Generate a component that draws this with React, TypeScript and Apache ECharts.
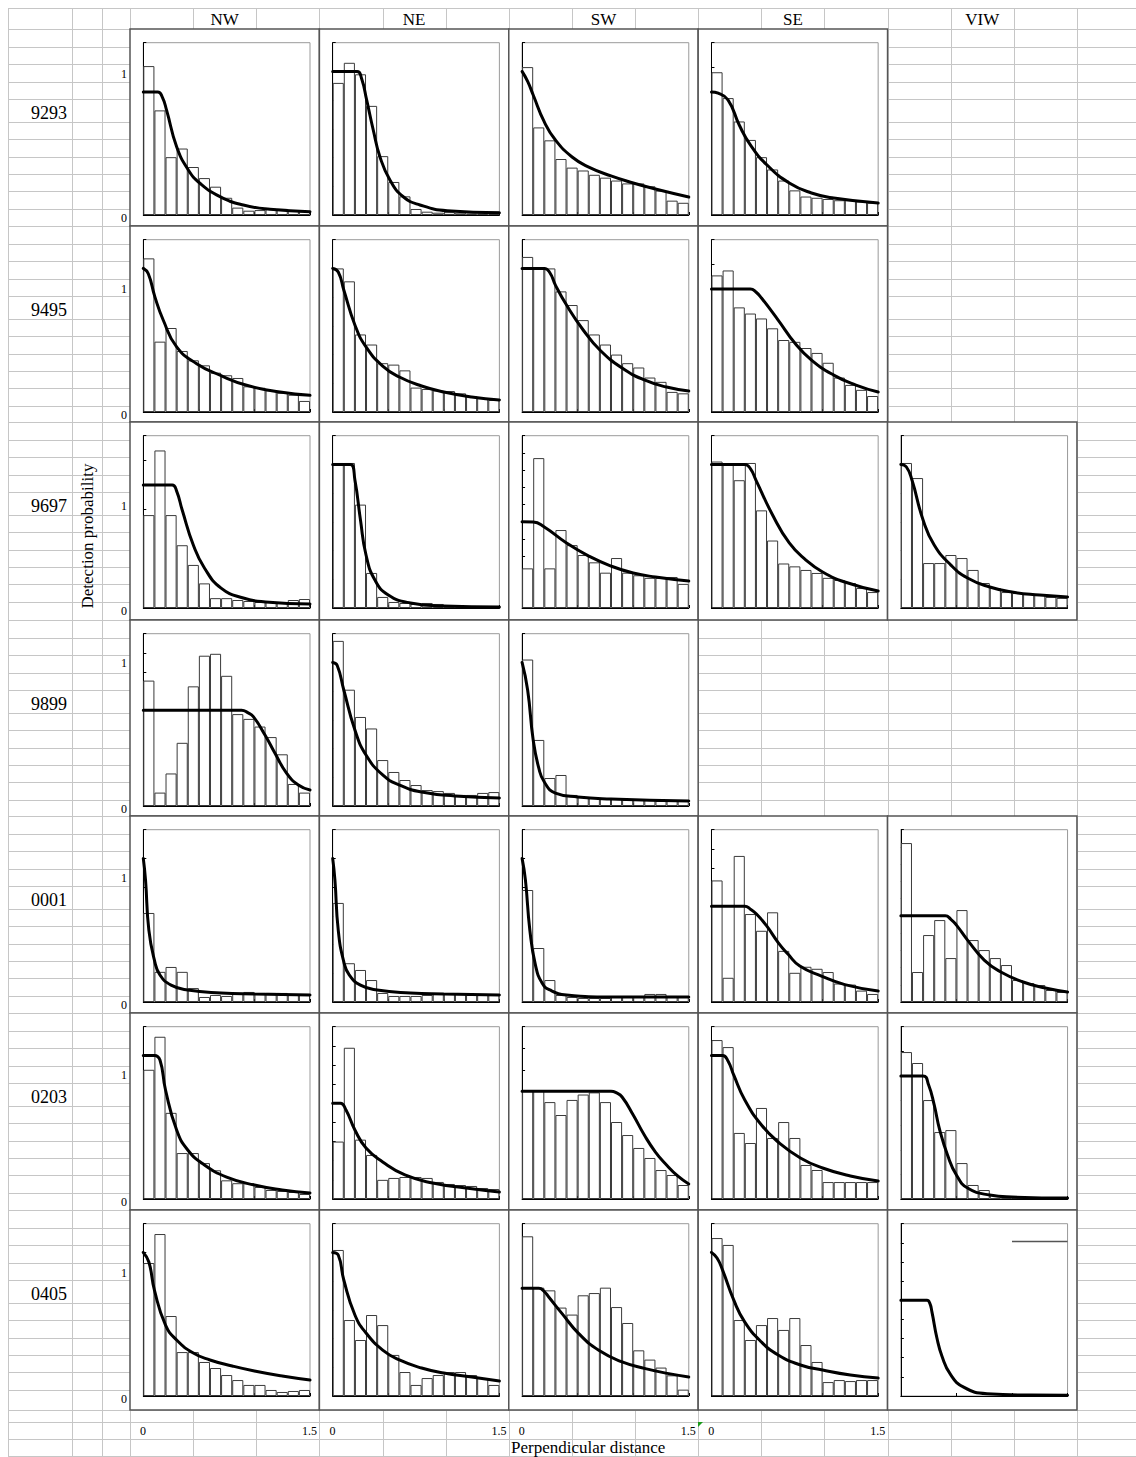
import React, { useEffect, useRef } from "react";
import * as echarts from "echarts";

// ---------- categories / labels ----------
const ROW_NAMES = ["9293", "9495", "9697", "9899", "0001", "0203", "0405"];
const COL_NAMES = ["NW", "NE", "SW", "SE", "VIW"];
const BIN_LABELS = ["0.05", "0.15", "0.25", "0.35", "0.45", "0.55", "0.65", "0.75", "0.85", "0.95", "1.05", "1.15", "1.25", "1.35", "1.45"];
const Y_CELL_LABELS = ["1", "0"];
const X_CELL_LABELS = ["0", "1.5"];
const Y_TITLE = "Detection probability";
const X_TITLE = "Perpendicular distance";

// ---------- data: histogram bars (15 bins of 0.1) and fitted detection curves ----------
// 9293
const nw9293Bars = [1.21, 0.85, 0.47, 0.54, 0.39, 0.3, 0.23, 0.14, 0.06, 0.035, 0.04, 0.05, 0.05, 0.04, 0.03];
const nw9293Curve = [[0, 1], [0.13, 1], [0.17, 0.96], [0.21, 0.85], [0.3, 0.555], [0.405, 0.366], [0.51, 0.258], [0.69, 0.149], [0.9, 0.081], [1.14, 0.046], [1.5, 0.027]];
const ne9293Bars = [0.92, 1.06, 0.98, 0.76, 0.41, 0.23, 0.13, 0.042, 0.023, 0.016, 0.02, 0.016, 0.01, 0.01, 0.023];
const ne9293Curve = [[0, 1], [0.22, 1], [0.26, 0.95], [0.306, 0.8], [0.365, 0.592], [0.425, 0.406], [0.515, 0.244], [0.635, 0.127], [0.785, 0.07], [1.03, 0.03], [1.5, 0.016]];
const sw9293Bars = [1.03, 0.61, 0.52, 0.39, 0.33, 0.31, 0.28, 0.26, 0.24, 0.22, 0.22, 0.2, 0.17, 0.1, 0.085];
const sw9293Curve = [[0, 1], [0.05, 0.93], [0.1, 0.836], [0.2, 0.648], [0.3, 0.522], [0.45, 0.404], [0.6, 0.334], [0.8, 0.272], [1.0, 0.223], [1.2, 0.181], [1.5, 0.125]];
const se9293Bars = [1.16, 0.95, 0.76, 0.61, 0.47, 0.37, 0.28, 0.2, 0.15, 0.14, 0.13, 0.12, 0.12, 0.11, 0.1];
const se9293Curve = [[0, 1], [0.06, 0.99], [0.15, 0.934], [0.25, 0.731], [0.35, 0.569], [0.5, 0.406], [0.7, 0.26], [0.9, 0.179], [1.1, 0.138], [1.5, 0.097]];
// 9495
const nw9495Bars = [1.07, 0.49, 0.585, 0.425, 0.36, 0.325, 0.274, 0.256, 0.237, 0.179, 0.169, 0.151, 0.134, 0.12, 0.077];
const nw9495Curve = [[0, 1], [0.045, 0.963], [0.105, 0.8], [0.18, 0.639], [0.3, 0.453], [0.48, 0.336], [0.69, 0.256], [0.93, 0.186], [1.23, 0.139], [1.5, 0.116]];
const ne9495Bars = [1.0, 0.91, 0.54, 0.47, 0.34, 0.33, 0.29, 0.17, 0.16, 0.15, 0.146, 0.13, 0.11, 0.097, 0.084];
const ne9495Curve = [[0, 1], [0.05, 0.975], [0.1, 0.85], [0.2, 0.606], [0.3, 0.453], [0.45, 0.32], [0.6, 0.244], [0.8, 0.181], [1.0, 0.139], [1.25, 0.104], [1.5, 0.084]];
const sw9495Bars = [1.08, 1.0, 1.0, 0.84, 0.745, 0.64, 0.54, 0.47, 0.4, 0.34, 0.31, 0.24, 0.21, 0.14, 0.13];
const sw9495Curve = [[0, 1], [0.2, 1], [0.25, 0.97], [0.3, 0.884], [0.4, 0.745], [0.55, 0.571], [0.7, 0.432], [0.9, 0.306], [1.1, 0.223], [1.3, 0.174], [1.5, 0.146]];
const se9495Bars = [1.11, 1.15, 0.85, 0.8, 0.76, 0.68, 0.585, 0.57, 0.52, 0.48, 0.4, 0.28, 0.22, 0.18, 0.13];
const se9495Curve = [[0, 1], [0.35, 1], [0.4, 0.975], [0.45, 0.926], [0.6, 0.747], [0.75, 0.56], [0.9, 0.422], [1.1, 0.3], [1.3, 0.219], [1.5, 0.162]];
// 9697
const nw9697Bars = [0.755, 1.28, 0.755, 0.51, 0.35, 0.2, 0.08, 0.08, 0.065, 0.057, 0.049, 0.049, 0.041, 0.065, 0.073];
const nw9697Curve = [[0, 1], [0.26, 1], [0.3, 0.95], [0.35, 0.796], [0.45, 0.512], [0.55, 0.325], [0.7, 0.162], [0.9, 0.081], [1.1, 0.049], [1.5, 0.032]];
const ne9697Bars = [1.01, 1.01, 0.72, 0.244, 0.077, 0.042, 0.035, 0.028, 0.035, 0.028, 0.014, 0.014, 0.014, 0.014, 0.014];
const ne9697Curve = [[0, 1], [0.16, 1], [0.2, 0.891], [0.25, 0.613], [0.3, 0.369], [0.38, 0.195], [0.5, 0.091], [0.7, 0.035], [1.0, 0.014], [1.5, 0.007]];
const sw9697Bars = [0.46, 1.74, 0.46, 0.905, 0.73, 0.615, 0.53, 0.41, 0.58, 0.41, 0.38, 0.35, 0.35, 0.36, 0.28];
const sw9697Curve = [[0, 1], [0.1, 0.998], [0.2, 0.94], [0.4, 0.754], [0.6, 0.603], [0.8, 0.487], [1.0, 0.406], [1.2, 0.36], [1.5, 0.313]];
const se9697Bars = [1.02, 1.0, 0.89, 1.01, 0.68, 0.47, 0.31, 0.29, 0.265, 0.244, 0.21, 0.195, 0.174, 0.139, 0.111];
const se9697Curve = [[0, 1], [0.3, 1], [0.35, 0.97], [0.4, 0.891], [0.55, 0.648], [0.7, 0.453], [0.85, 0.334], [1.0, 0.251], [1.2, 0.181], [1.5, 0.118]];
const viw9697Bars = [1.01, 0.905, 0.313, 0.313, 0.369, 0.348, 0.265, 0.174, 0.139, 0.111, 0.104, 0.097, 0.091, 0.077, 0.07];
const viw9697Curve = [[0, 1], [0.05, 0.982], [0.1, 0.891], [0.2, 0.613], [0.3, 0.439], [0.45, 0.299], [0.6, 0.209], [0.8, 0.146], [1.0, 0.111], [1.25, 0.091], [1.5, 0.077]];
// 9899
const nw9899Bars = [1.31, 0.14, 0.34, 0.66, 1.25, 1.57, 1.59, 1.36, 0.96, 0.91, 0.83, 0.72, 0.54, 0.23, 0.14];
const nw9899Curve = [[0, 1], [0.885, 1], [0.94, 0.975], [0.99, 0.933], [1.095, 0.742], [1.185, 0.551], [1.29, 0.342], [1.395, 0.219], [1.5, 0.167]];
const ne9899Bars = [1.15, 0.81, 0.62, 0.54, 0.32, 0.237, 0.181, 0.146, 0.111, 0.104, 0.091, 0.077, 0.077, 0.091, 0.097];
const ne9899Curve = [[0, 1], [0.04, 0.98], [0.1, 0.808], [0.2, 0.529], [0.3, 0.355], [0.45, 0.216], [0.6, 0.146], [0.8, 0.097], [1.1, 0.07], [1.5, 0.056]];
const sw9899Bars = [1.02, 0.46, 0.195, 0.216, 0.077, 0.063, 0.056, 0.049, 0.049, 0.042, 0.042, 0.042, 0.035, 0.042, 0.042];
const sw9899Curve = [[0, 1], [0.05, 0.808], [0.1, 0.46], [0.15, 0.265], [0.2, 0.167], [0.3, 0.09], [0.5, 0.063], [0.8, 0.049], [1.5, 0.035]];
// 0001
const nw0001Bars = [0.62, 0.21, 0.244, 0.21, 0.097, 0.035, 0.049, 0.042, 0.063, 0.07, 0.063, 0.063, 0.063, 0.056, 0.056];
const nw0001Curve = [[0, 1], [0.02, 0.85], [0.05, 0.5], [0.1, 0.292], [0.15, 0.188], [0.25, 0.118], [0.4, 0.084], [0.7, 0.063], [1.0, 0.056], [1.5, 0.049]];
const ne0001Bars = [0.69, 0.27, 0.223, 0.153, 0.063, 0.042, 0.042, 0.042, 0.049, 0.056, 0.063, 0.056, 0.049, 0.056, 0.049];
const ne0001Curve = [[0, 1], [0.02, 0.85], [0.05, 0.5], [0.1, 0.279], [0.15, 0.188], [0.25, 0.118], [0.4, 0.084], [0.7, 0.063], [1.0, 0.056], [1.5, 0.049]];
const sw0001Bars = [0.78, 0.376, 0.153, 0.049, 0.035, 0.028, 0.028, 0.028, 0.035, 0.042, 0.042, 0.056, 0.056, 0.042, 0.035];
const sw0001Curve = [[0, 1], [0.03, 0.85], [0.07, 0.5], [0.12, 0.258], [0.18, 0.132], [0.25, 0.084], [0.4, 0.049], [0.8, 0.035], [1.5, 0.035]];
const se0001Bars = [1.27, 0.253, 1.526, 0.919, 0.744, 0.937, 0.534, 0.305, 0.368, 0.347, 0.313, 0.193, 0.182, 0.119, 0.084];
const se0001Curve = [[0, 1], [0.3, 1], [0.35, 0.97], [0.405, 0.919], [0.495, 0.797], [0.6, 0.621], [0.69, 0.498], [0.795, 0.376], [0.99, 0.271], [1.2, 0.182], [1.5, 0.115]];
const viw0001Bars = [1.845, 0.348, 0.777, 0.951, 0.51, 1.067, 0.719, 0.603, 0.51, 0.429, 0.255, 0.22, 0.197, 0.139, 0.116];
const viw0001Curve = [[0, 1], [0.4, 1], [0.45, 0.96], [0.5, 0.893], [0.6, 0.719], [0.75, 0.487], [0.9, 0.348], [1.1, 0.232], [1.3, 0.162], [1.5, 0.116]];
// 0203
const nw0203Bars = [0.9, 1.13, 0.6, 0.32, 0.32, 0.25, 0.2, 0.13, 0.11, 0.11, 0.084, 0.063, 0.056, 0.049, 0.035];
const nw0203Curve = [[0, 1], [0.1, 1], [0.15, 0.968], [0.2, 0.759], [0.3, 0.48], [0.4, 0.341], [0.55, 0.237], [0.75, 0.153], [1.0, 0.097], [1.25, 0.063], [1.5, 0.042]];
const ne0203Bars = [0.6, 1.58, 0.62, 0.46, 0.2, 0.22, 0.23, 0.23, 0.22, 0.178, 0.157, 0.146, 0.136, 0.115, 0.104];
const ne0203Curve = [[0, 1], [0.07, 1], [0.12, 0.93], [0.2, 0.721], [0.3, 0.533], [0.45, 0.387], [0.65, 0.251], [0.9, 0.167], [1.2, 0.115], [1.5, 0.073]];
const sw0203Bars = [1.01, 1.01, 0.9, 0.78, 0.92, 0.97, 0.99, 0.9, 0.715, 0.594, 0.474, 0.381, 0.269, 0.223, 0.13];
const sw0203Curve = [[0, 1], [0.8, 1], [0.85, 0.985], [0.9, 0.947], [1.0, 0.78], [1.1, 0.594], [1.2, 0.436], [1.3, 0.316], [1.4, 0.214], [1.5, 0.139]];
const se0203Bars = [1.107, 1.058, 0.46, 0.39, 0.634, 0.425, 0.536, 0.425, 0.237, 0.202, 0.118, 0.118, 0.118, 0.118, 0.118];
const se0203Curve = [[0, 1], [0.1, 1], [0.15, 0.96], [0.2, 0.864], [0.3, 0.689], [0.45, 0.515], [0.6, 0.397], [0.8, 0.286], [1.0, 0.216], [1.25, 0.16], [1.5, 0.125]];
const viw0203Bars = [1.194, 1.105, 0.804, 0.544, 0.56, 0.292, 0.114, 0.073, 0.032, 0.016, 0.008, 0.008, 0.008, 0.008, 0.008];
const viw0203Curve = [[0, 1], [0.2, 1], [0.25, 0.926], [0.3, 0.764], [0.35, 0.56], [0.42, 0.357], [0.5, 0.195], [0.6, 0.089], [0.8, 0.032], [1.0, 0.016], [1.5, 0.008]];
// 0405
const nw0405Bars = [0.926, 1.128, 0.557, 0.306, 0.306, 0.237, 0.195, 0.146, 0.111, 0.077, 0.077, 0.042, 0.028, 0.035, 0.042];
const nw0405Curve = [[0, 1], [0.05, 0.933], [0.1, 0.738], [0.2, 0.494], [0.3, 0.39], [0.45, 0.299], [0.6, 0.251], [0.8, 0.209], [1.0, 0.174], [1.25, 0.139], [1.5, 0.111]];
const ne0405Bars = [1.017, 0.529, 0.39, 0.564, 0.494, 0.286, 0.167, 0.077, 0.125, 0.146, 0.167, 0.167, 0.146, 0.125, 0.077];
const ne0405Curve = [[0, 1], [0.05, 0.982], [0.1, 0.808], [0.2, 0.564], [0.3, 0.439], [0.45, 0.32], [0.6, 0.251], [0.8, 0.195], [1.0, 0.16], [1.25, 0.132], [1.5, 0.104]];
const sw0405Bars = [1.483, 1.006, 0.981, 0.821, 0.756, 0.935, 0.956, 1.006, 0.826, 0.678, 0.424, 0.338, 0.264, 0.192, 0.059];
const sw0405Curve = [[0, 1], [0.15, 1], [0.2, 0.97], [0.24, 0.919], [0.36, 0.765], [0.51, 0.579], [0.69, 0.424], [0.9, 0.316], [1.11, 0.254], [1.32, 0.208], [1.5, 0.176]];
const se0405Bars = [1.1, 1.052, 0.529, 0.39, 0.494, 0.543, 0.46, 0.543, 0.355, 0.237, 0.097, 0.111, 0.104, 0.111, 0.111];
const se0405Curve = [[0, 1], [0.05, 0.961], [0.1, 0.877], [0.2, 0.669], [0.3, 0.515], [0.45, 0.376], [0.6, 0.286], [0.8, 0.216], [1.0, 0.181], [1.25, 0.146], [1.5, 0.125]];
const viw0405Bars: number[] = [];
const viw0405Curve = [[0, 1], [0.235, 1], [0.26, 0.97], [0.28, 0.876], [0.325, 0.603], [0.37, 0.416], [0.445, 0.228], [0.565, 0.092], [0.775, 0.024], [1.17, 0.01], [1.5, 0.008]];
const viw0405Ref = [[1.0, 1.615], [1.5, 1.615]];

// panel list: [row, col, bars, curve, axis max]
const PANELS: [number, number, number[], number[][], number][] = [
  [0, 0, nw9293Bars, nw9293Curve, 1.4],
  [0, 1, ne9293Bars, ne9293Curve, 1.2],
  [0, 2, sw9293Bars, sw9293Curve, 1.2],
  [0, 3, se9293Bars, se9293Curve, 1.4],
  [1, 0, nw9495Bars, nw9495Curve, 1.2],
  [1, 1, ne9495Bars, ne9495Curve, 1.2],
  [1, 2, sw9495Bars, sw9495Curve, 1.2],
  [1, 3, se9495Bars, se9495Curve, 1.4],
  [2, 0, nw9697Bars, nw9697Curve, 1.4],
  [2, 1, ne9697Bars, ne9697Curve, 1.2],
  [2, 2, sw9697Bars, sw9697Curve, 2.0],
  [2, 3, se9697Bars, se9697Curve, 1.2],
  [2, 4, viw9697Bars, viw9697Curve, 1.2],
  [3, 0, nw9899Bars, nw9899Curve, 1.8],
  [3, 1, ne9899Bars, ne9899Curve, 1.2],
  [3, 2, sw9899Bars, sw9899Curve, 1.2],
  [4, 0, nw0001Bars, nw0001Curve, 1.2],
  [4, 1, ne0001Bars, ne0001Curve, 1.2],
  [4, 2, sw0001Bars, sw0001Curve, 1.2],
  [4, 3, se0001Bars, se0001Curve, 1.8],
  [4, 4, viw0001Bars, viw0001Curve, 2.0],
  [5, 0, nw0203Bars, nw0203Curve, 1.2],
  [5, 1, ne0203Bars, ne0203Curve, 1.8],
  [5, 2, sw0203Bars, sw0203Curve, 1.6],
  [5, 3, se0203Bars, se0203Curve, 1.2],
  [5, 4, viw0203Bars, viw0203Curve, 1.4],
  [6, 0, nw0405Bars, nw0405Curve, 1.2],
  [6, 1, ne0405Bars, ne0405Curve, 1.2],
  [6, 2, sw0405Bars, sw0405Curve, 1.6],
  [6, 3, se0405Bars, se0405Curve, 1.2],
  [6, 4, viw0405Bars, viw0405Curve, 1.8],
];

// ---------- layout (pixels) ----------
const W = 1136;
const H = 1457;
const ROW_TOPS = [29, 226, 422, 620, 816, 1013, 1210];
const ROW_HEIGHTS = [197, 196, 198, 196, 197, 197, 200];
const COL_X0 = 130;
const SHEET_COL_W = 63.13;
const PANEL_W = SHEET_COL_W * 3;
const PLOT_L = 13.3;
const PLOT_T = 13.7;
const PLOT_W = 166.7;
const PLOT_H = 172.3;
const ROW_LINE_OFFSETS = [0, 17.7, 35.3, 52.7, 70.3, 92.7, 110, 127.7, 145, 162.3, 180];
const ONE_LABEL_Y = [74, 289, 506, 663, 878, 1075, 1273];
const SERIF = "'Liberation Serif', 'Times New Roman', serif";

function buildOption() {
  const grids: any[] = [];
  const xAxes: any[] = [];
  const yAxes: any[] = [];
  const series: any[] = [];
  const graphics: any[] = [];
  const px = (v: number) => Math.round(v) + 0.5;

  // spreadsheet grid lines
  const vx: number[] = [8, 71.5, 101.5];
  for (let k = 0; k <= 15; k++) vx.push(COL_X0 + k * SHEET_COL_W);
  vx.forEach((x) =>
    graphics.push({ type: "line", silent: true, z: -20, shape: { x1: px(x), y1: 8, x2: px(x), y2: 1456 }, style: { stroke: "#c6c6c6", lineWidth: 1 } })
  );
  const hy: number[] = [8, 29];
  ROW_TOPS.forEach((t) => ROW_LINE_OFFSETS.forEach((o) => hy.push(t + o)));
  hy.push(1409.5, 1422, 1439, 1456);
  hy.forEach((y) =>
    graphics.push({ type: "line", silent: true, z: -20, shape: { x1: 8, y1: px(y), x2: W, y2: px(y) }, style: { stroke: "#c6c6c6", lineWidth: 1 } })
  );

  // column headers
  COL_NAMES.forEach((name, c) =>
    graphics.push({
      type: "text", silent: true, z: 20,
      x: COL_X0 + c * PANEL_W + SHEET_COL_W * 1.5, y: 19,
      style: { text: name, fontFamily: SERIF, fontSize: 17, fill: "#000", align: "center", verticalAlign: "middle" },
    })
  );
  // row labels and 0 / 1 cells
  ROW_NAMES.forEach((name, r) => {
    graphics.push({
      type: "text", silent: true, z: 20, x: 67, y: ROW_TOPS[r] + 84,
      style: { text: name, fontFamily: SERIF, fontSize: 18, fill: "#000", align: "right", verticalAlign: "middle" },
    });
    graphics.push({
      type: "text", silent: true, z: 20, x: 127, y: ONE_LABEL_Y[r],
      style: { text: Y_CELL_LABELS[0], fontFamily: SERIF, fontSize: 12, fill: "#000", align: "right", verticalAlign: "middle" },
    });
    graphics.push({
      type: "text", silent: true, z: 20, x: 127, y: ROW_TOPS[r] + 189,
      style: { text: Y_CELL_LABELS[1], fontFamily: SERIF, fontSize: 12, fill: "#000", align: "right", verticalAlign: "middle" },
    });
  });
  // distance cells
  for (let c = 0; c < 4; c++) {
    const x0 = COL_X0 + c * PANEL_W;
    graphics.push({
      type: "text", silent: true, z: 20, x: x0 + 10, y: 1431,
      style: { text: X_CELL_LABELS[0], fontFamily: SERIF, fontSize: 12, fill: "#000", align: "left", verticalAlign: "middle" },
    });
    graphics.push({
      type: "text", silent: true, z: 20, x: x0 + 187, y: 1431,
      style: { text: X_CELL_LABELS[1], fontFamily: SERIF, fontSize: 12, fill: "#000", align: "right", verticalAlign: "middle" },
    });
  }
  graphics.push({
    type: "text", silent: true, z: 20, x: 511, y: 1447,
    style: { text: X_TITLE, fontFamily: SERIF, fontSize: 17, fill: "#000", align: "left", verticalAlign: "middle" },
  });
  graphics.push({
    type: "text", silent: true, z: 20, x: 87, y: 536, rotation: Math.PI / 2,
    style: { text: Y_TITLE, fontFamily: SERIF, fontSize: 17, fill: "#000", align: "center", verticalAlign: "middle" },
  });
  graphics.push({
    type: "polygon", silent: true, z: 20,
    shape: { points: [[698, 1422], [703, 1422], [698, 1427]] },
    style: { fill: "#1a9a1a" },
  });

  PANELS.forEach(([r, c, bars, curve, yMax], i) => {
    const x0 = COL_X0 + c * PANEL_W;
    const y0 = ROW_TOPS[r];
    graphics.push({
      type: "rect", silent: true, z: -10,
      shape: { x: x0, y: y0, width: PANEL_W, height: ROW_HEIGHTS[r] },
      style: { fill: "#fff", stroke: "#555", lineWidth: 1.5 },
    });
    grids.push({
      left: x0 + PLOT_L, top: y0 + PLOT_T, width: PLOT_W, height: PLOT_H,
      show: true, borderColor: "#9a9a9a", borderWidth: 1, backgroundColor: "transparent", containLabel: false,
    });
    xAxes.push({
      type: "category", gridIndex: i, position: "bottom", data: BIN_LABELS, boundaryGap: true,
      axisLine: { show: true, lineStyle: { color: "#000", width: 1 } },
      axisTick: { show: false }, axisLabel: { show: false }, splitLine: { show: false },
    });
    xAxes.push({
      type: "value", gridIndex: i, position: "bottom", min: 0, max: 1.5, interval: 0.5,
      axisLine: { show: false }, axisTick: { show: true, inside: true, length: 3, lineStyle: { color: "#000" } },
      axisLabel: { show: false }, splitLine: { show: false },
    });
    yAxes.push({
      type: "value", gridIndex: i, min: 0, max: yMax, interval: 0.2,
      axisLine: { show: true, onZero: false, lineStyle: { color: "#000", width: 1 } },
      axisTick: { show: true, inside: true, length: 3, lineStyle: { color: "#000" } },
      axisLabel: { show: false }, splitLine: { show: false },
    });
    if (bars.length) {
      series.push({
        type: "bar", xAxisIndex: 2 * i, yAxisIndex: i, data: bars, barCategoryGap: "0%", silent: true,
        itemStyle: { color: "#fff", borderColor: "#3a3a3a", borderWidth: 1 },
      });
    }
    series.push({
      type: "line", xAxisIndex: 2 * i + 1, yAxisIndex: i, data: curve, smooth: 0.5,
      showSymbol: false, symbol: "none", silent: true, z: 5,
      lineStyle: { color: "#000", width: 3, join: "round", cap: "round" },
    });
    if (r === 6 && c === 4) {
      series.push({
        type: "line", xAxisIndex: 2 * i + 1, yAxisIndex: i, data: viw0405Ref, showSymbol: false, symbol: "none",
        silent: true, z: 5, lineStyle: { color: "#555", width: 1.5 },
      });
    }
  });

  return {
    animation: false,
    backgroundColor: "#fff",
    grid: grids,
    xAxis: xAxes,
    yAxis: yAxes,
    series,
    graphic: { elements: graphics },
  };
}

export default function App() {
  const ref = useRef<HTMLDivElement>(null);
  useEffect(() => {
    if (!ref.current) return;
    const chart = echarts.init(ref.current, undefined, { renderer: "svg" });
    chart.setOption(buildOption() as any);
    return () => chart.dispose();
  }, []);
  return <div ref={ref} style={{ position: "absolute", left: 0, top: 0, width: W, height: H }} />;
}
